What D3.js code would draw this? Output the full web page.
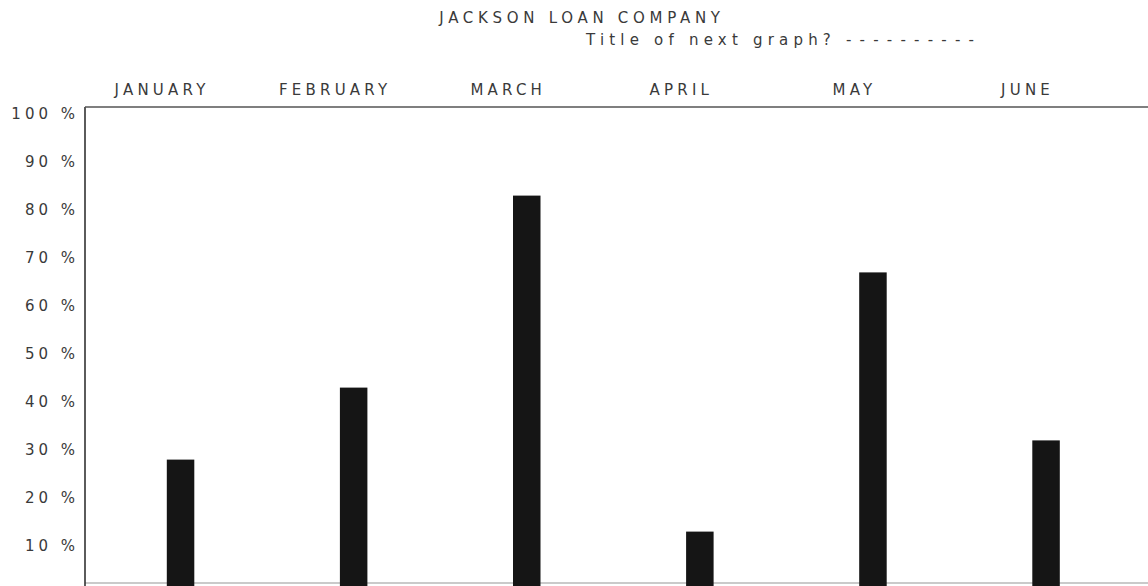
<!DOCTYPE html>
<html>
<head>
<meta charset="utf-8">
<script src="https://cdn.jsdelivr.net/npm/d3@7"></script>
<style>
  html, body { margin: 0; padding: 0; background: #fff; }
  svg { display: block; }
  text { font-family: "DejaVu Sans", "Liberation Sans", sans-serif; fill: #3a3a3a; }
</style>
</head>
<body>
<svg id="chart" width="1148" height="586"></svg>
<script>
// ---- data ----
const titleMain = "JACKSON LOAN COMPANY";
const titlePrompt = "Title of next graph?";
const titleBlank = "----------";
const months = ["JANUARY", "FEBRUARY", "MARCH", "APRIL", "MAY", "JUNE"];
const values = [28, 43, 83, 13, 67, 32];
const yTicks = [10, 20, 30, 40, 50, 60, 70, 80, 90, 100];

// ---- layout ----
const W = 1148, H = 586;
const svg = d3.select("#chart");

const x = d3.scalePoint().domain(months).range([94, 1132.6]).padding(0.5);
const y = d3.scaleLinear().domain([0, 100]).range([594, 114]);
const barW = 27.5;
const axisX = 85, topY = 107, baseY = 583;
const fs = "15px";

// title
svg.append("text").attr("x", 582).attr("y", 18).attr("dy", "0.35em")
  .attr("text-anchor", "middle").style("font-size", fs).style("letter-spacing", "4.7px")
  .text(titleMain);
const t2 = svg.append("text").attr("x", 586).attr("y", 40).attr("dy", "0.35em")
  .attr("text-anchor", "start").style("font-size", fs);
t2.append("tspan").style("letter-spacing", "5.2px").text(titlePrompt + " ");
t2.append("tspan").style("letter-spacing", "8.2px").text(titleBlank);

// month labels (top axis)
const monthAxis = d3.axisTop(x).tickSize(0).tickPadding(0);
const mg = svg.append("g").attr("transform", `translate(-19,90)`).call(monthAxis);
mg.select(".domain").remove();
mg.selectAll("text").attr("dy", "0.35em").attr("y", 0)
  .style("font-size", fs).style("letter-spacing", "4.2px")
  .style("font-family", "DejaVu Sans").attr("fill", "#3a3a3a");

// y axis labels
const yAxis = d3.axisLeft(y).tickValues(yTicks).tickSize(0).tickPadding(6)
  .tickFormat(d => d + " %");
const yg = svg.append("g").attr("transform", `translate(${axisX},0)`).call(yAxis);
yg.select(".domain").remove();
yg.selectAll("text").style("font-size", fs).style("letter-spacing", "4px")
  .style("font-family", "DejaVu Sans").attr("fill", "#3a3a3a");

// baseline
svg.append("line").attr("x1", axisX).attr("x2", W).attr("y1", baseY).attr("y2", baseY)
  .attr("stroke", "#b8b8b8").attr("stroke-width", 1.5);

// bars
svg.append("g").selectAll("rect").data(values).join("rect")
  .attr("x", (d, i) => x(months[i]) - barW / 2)
  .attr("y", d => y(d))
  .attr("width", barW)
  .attr("height", d => H - y(d))
  .attr("fill", "#151515");

// frame: left axis and top line
svg.append("line").attr("x1", axisX).attr("x2", axisX).attr("y1", topY).attr("y2", H)
  .attr("stroke", "#333").attr("stroke-width", 1.6);
svg.append("line").attr("x1", axisX).attr("x2", W).attr("y1", topY).attr("y2", topY)
  .attr("stroke", "#555").attr("stroke-width", 1.3);
</script>
</body>
</html>
